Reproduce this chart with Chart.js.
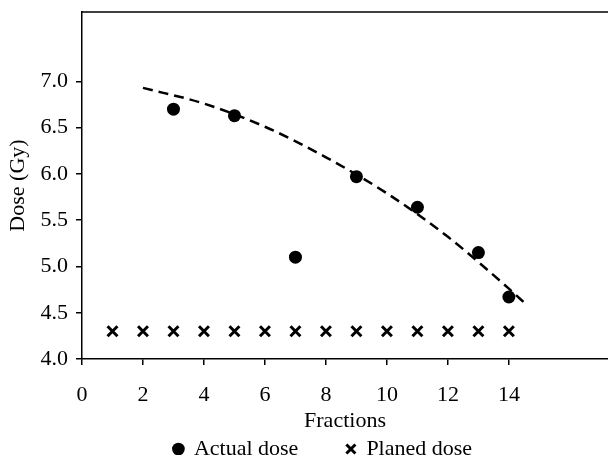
<!DOCTYPE html>
<html>
<head>
<meta charset="utf-8">
<script src="https://cdn.jsdelivr.net/npm/chart.js@4/dist/chart.umd.min.js"></script>
<style>
  html, body { margin: 0; padding: 0; background: #fff; overflow: hidden; }
  #wrap { width: 608px; height: 455px; }
</style>
</head>
<body>
<div id="wrap"><canvas id="doseChart"></canvas></div>
<script>
const actualX = [3, 5, 7, 9, 11, 13, 14];
const actualDose = [6.70, 6.63, 5.10, 5.97, 5.64, 5.15, 4.67];

const plannedX = [1, 2, 3, 4, 5, 6, 7, 8, 9, 10, 11, 12, 13, 14];
const plannedDose = [4.3, 4.3, 4.3, 4.3, 4.3, 4.3, 4.3, 4.3, 4.3, 4.3, 4.3, 4.3, 4.3, 4.3];

const trendX = [2, 4, 6, 8, 10, 12, 14, 14.6];
const trendDose = [6.93, 6.76, 6.51, 6.18, 5.79, 5.32, 4.76, 4.58];

const toPoints = (xs, ys) => xs.map((x, i) => ({ x: x, y: ys[i] }));

const FONT = { family: '"Liberation Serif", "Times New Roman", serif', size: 22 };

// top frame line (no right border in the original)
const topLine = {
    id: 'topLine',
    afterDraw(chart) {
        const { ctx, chartArea } = chart;
        ctx.save();
        ctx.strokeStyle = '#000';
        ctx.lineWidth = 1.5;
        ctx.beginPath();
        ctx.moveTo(chartArea.left, chartArea.top);
        ctx.lineTo(chart.width, chartArea.top);
        ctx.stroke();
        ctx.restore();
    }
};

new Chart(document.getElementById('doseChart'), {
    type: 'scatter',
    data: {
        datasets: [
            {
                label: 'Actual dose',
                data: toPoints(actualX, actualDose),
                pointStyle: 'circle',
                pointRadius: 6.5,
                backgroundColor: '#000',
                borderColor: '#000',
                borderWidth: 0
            },
            {
                label: 'Planed dose',
                data: toPoints(plannedX, plannedDose),
                pointStyle: 'crossRot',
                pointRadius: 7,
                borderWidth: 3,
                borderColor: '#000',
                backgroundColor: '#000'
            },
            {
                label: 'trend',
                type: 'line',
                data: toPoints(trendX, trendDose),
                borderColor: '#000',
                borderWidth: 2.5,
                borderDash: [10, 6],
                cubicInterpolationMode: 'monotone',
                pointRadius: 0,
                fill: false
            }
        ]
    },
    options: {
        responsive: true,
        maintainAspectRatio: false,
        animation: false,
        layout: { autoPadding: false, padding: { top: 12, right: 0, left: 38, bottom: -15 } },
        plugins: {
            tooltip: { enabled: false },
            legend: {
                position: 'bottom',
                labels: {
                    usePointStyle: true,
                    boxWidth: 9,
                    boxHeight: 9,
                    padding: 4,
                    color: '#000',
                    font: FONT,
                    generateLabels: chart => {
                        const items = Chart.defaults.plugins.legend.labels.generateLabels(chart)
                            .filter(item => item.text !== 'trend');
                        items[0].text += '\u2003\u2003';
                        return items;
                    }
                }
            }
        },
        scales: {
            x: {
                type: 'linear',
                min: 0,
                max: 17.25,
                afterBuildTicks: axis => {
                    axis.ticks = axis.ticks.filter(t => t.value <= 14 && t.value % 2 === 0);
                },
                afterFit: axis => {
                    axis.height = 75;
                    axis.paddingLeft = 0;
                    axis.paddingRight = 0;
                },
                ticks: { stepSize: 2, color: '#000', font: FONT, padding: 17, maxRotation: 0 },
                grid: { drawOnChartArea: false, tickLength: 6, color: '#000', lineWidth: 1.5 },
                border: { color: '#000', width: 1.5 },
                title: { display: true, text: 'Fractions', color: '#000', font: FONT, padding: { top: 0, bottom: 0 } }
            },
            y: {
                min: 4.0,
                max: 7.75,
                afterBuildTicks: axis => {
                    axis.ticks = axis.ticks.filter(t => t.value <= 7.0);
                },
                afterFit: axis => {
                    axis.width = 44;
                    axis.paddingTop = 0;
                    axis.paddingBottom = 0;
                },
                ticks: {
                    stepSize: 0.5,
                    color: '#000',
                    font: FONT,
                    padding: 8,
                    callback: v => Number(v).toFixed(1)
                },
                grid: { drawOnChartArea: false, tickLength: 6, color: '#000', lineWidth: 1.5 },
                border: { color: '#000', width: 1.5 },
                title: { display: true, text: 'Dose (Gy)', color: '#000', font: FONT, padding: { top: -33, bottom: 0 } }
            }
        }
    },
    plugins: [topLine]
});
</script>
</body>
</html>
